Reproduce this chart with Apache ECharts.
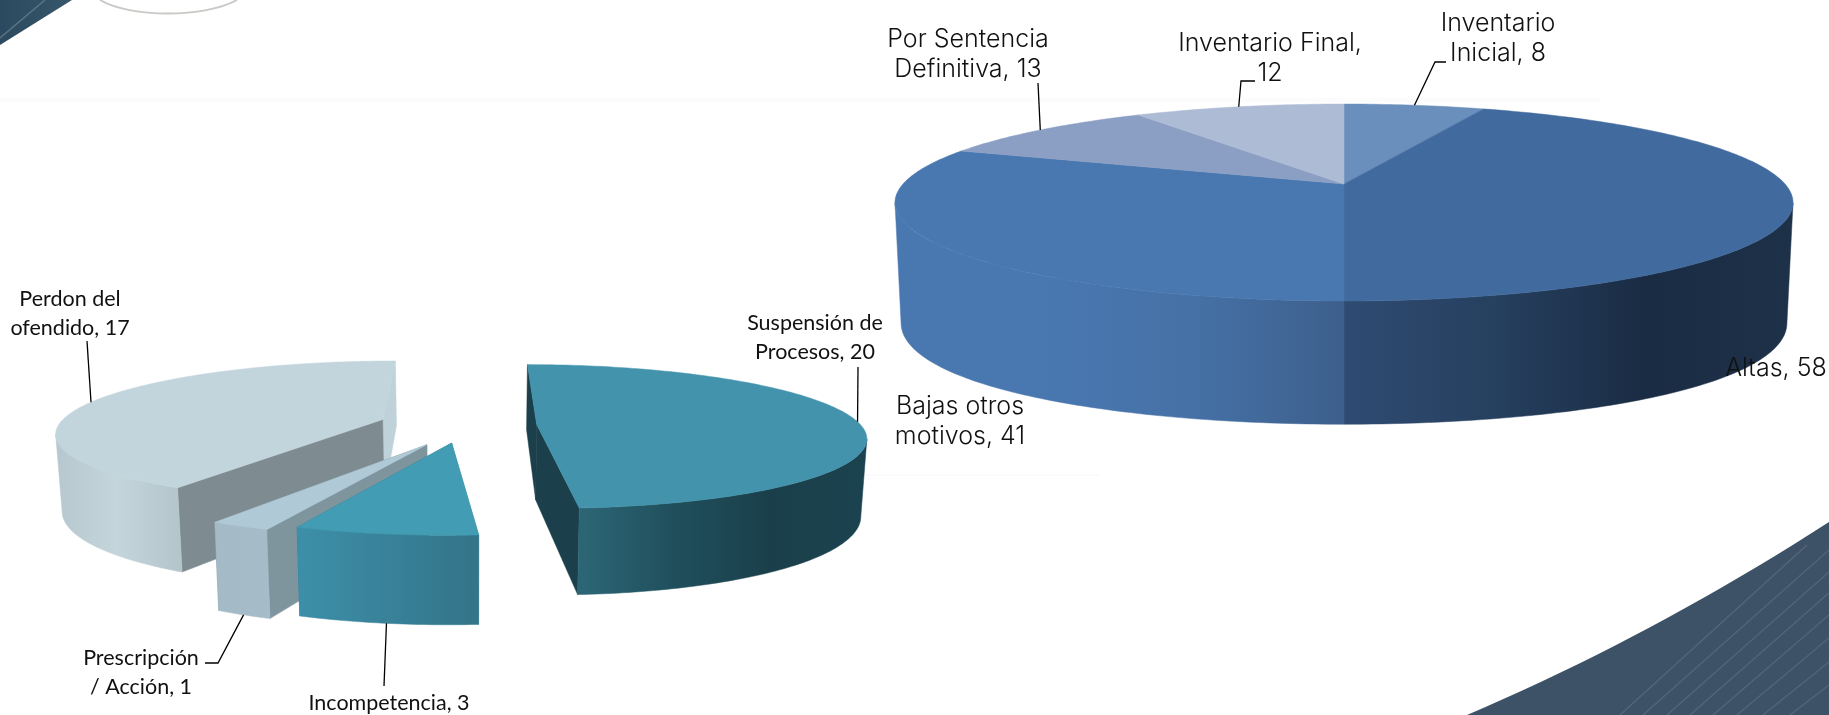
<!DOCTYPE html>
<html><head><meta charset="utf-8">
<style>html,body{margin:0;padding:0;background:#fff}#c{width:1829px;height:715px}</style>
<script src="https://cdn.jsdelivr.net/npm/echarts@6/dist/echarts.min.js"></script>
</head><body><div id="c"></div>
<script>
// ---- chart values ----
const rightCategories = ['Inventario Inicial', 'Altas', 'Bajas otros motivos', 'Por Sentencia Definitiva', 'Inventario Final'];
const rightValues = [8, 58, 41, 13, 12];
const leftCategories = ['Suspensión de Procesos', 'Incompetencia', 'Prescripción / Acción', 'Perdon del ofendido'];
const leftValues = [20, 3, 1, 17];

// ---- layout and styles ----
const LG = (stops, x0, x1) => new echarts.graphic.LinearGradient(x0, 0, x1, 0, stops.map((c, i) => ({offset: i / (stops.length - 1), color: c})), true);
const rightFont = '"Inter", "Lato", sans-serif', leftFont = 'Lato, sans-serif';

const rightPie = {
  top: {vx: 1344, vy: 184, s: 441, a: 95, c: -0.188, cy: -0.188},
  bottom: {vx: 1344, vy: 302, s: 435, a: 110, c: -0.188, cy: -0.1},
  explode: [0, 0, 0, 0, 0], nudge: [[0, 0], [0, 0], [0, 0], [0, 0], [0, 0]],
  font: rightFont, fontSize: 25, lineHeight: 30, fontWeight: 300,
  styles: [
    {top: '#6a8fbd'},
    {top: '#416b9e', wall: () => LG(['#2f4b72', '#26405f', '#1a2c44', '#1d3149'], 1344, 1793)},
    {top: '#4977b0', wall: () => LG(['#4977b0', '#4977b0', '#4571a6', '#3d5f8c'], 895, 1344)},
    {top: '#8a9fc3'},
    {top: '#adbbd4'}
  ],
  labels: [
    {x: 1498, y: 23, wrap: 1, leader: [[1446, 62], [1435, 62]]},
    {x: 1776, y: 368},
    {x: 960, y: 406, wrap: 2},
    {x: 968, y: 39, wrap: 2, leader: [[1038, 83]]},
    {x: 1270, y: 43, wrap: 2, leader: [[1255, 81], [1241, 81]]}
  ]
};
const leftPie = {
  top: {vx: 472, vy: 425, s: 324, a: 70, c: -0.167, cy: -0.167},
  bottom: {vx: 472, vy: 500.5, s: 319, a: 81, c: -0.167, cy: -0.15},
  explode: [0.2, 0.25, 0.3, 0.3], nudge: [[0, 0], [-0.022, 0], [0, 0], [0.01, 0]],
  font: leftFont, fontSize: 21.5, lineHeight: 29, fontWeight: 400,
  depth: [1, 3, 2, 0],
  styles: [
    {top: '#4393ad', wall: () => LG(['#2c6675', '#204f5c', '#1a3f4b', '#1b434f'], 580, 866), faceA: '#1b3f4b', faceB: '#1b3f4b'},
    {top: '#429cb4', wall: () => LG(['#3d8fa9', '#34758a'], 297, 471), faceA: '#34758a', faceB: '#3d8fa9'},
    {top: '#afcad6', wall: () => LG(['#a4bac6', '#a6bcc8'], 215, 270), faceA: '#7a929c', faceB: '#7f959e'},
    {top: '#c2d4dc', wall: () => LG(['#b6c6cd', '#c4d5dc', '#b4c4cb'], 50, 183), faceA: '#bfd2da', faceB: '#7e8c92'}
  ],
  labels: [
    {x: 815, y: 323, wrap: 2, leader: [[858, 367]]},
    {x: 389, y: 703, leader: [[384, 686]], rim: 'bottom'},
    {x: 141, y: 658, wrap: 1, leader: [[205, 663], [218, 663]], rim: 'bottom'},
    {x: 70, y: 299, wrap: 2, leader: [[87, 341]]}
  ]
};

const rad = d => d * Math.PI / 180;
function project(pl, X, Y) {
  return [pl.vx + pl.s * X / (1 + pl.c * Y), pl.vy + pl.a * Y / (1 + pl.cy * Y)];
}
function rimPoint(pl, off, deg) {
  return project(pl, off[0] + Math.sin(rad(deg)), off[1] - Math.cos(rad(deg)));
}
function extremeAngles(pl, off) {
  let maxX = -1e9, minX = 1e9, right = 90, left = 270;
  for (let d = 0; d < 360; d += 0.5) {
    const x = rimPoint(pl, off, d)[0];
    if (x > maxX) { maxX = x; right = d; }
    if (x < minX) { minX = x; left = d; }
  }
  return [right, left];
}
function arc(pl, off, a0, a1) {
  const pts = [], n = Math.max(2, Math.ceil(Math.abs(a1 - a0)));
  for (let i = 0; i <= n; i++) pts.push(rimPoint(pl, off, a0 + (a1 - a0) * i / n));
  return pts;
}
function wrapLabel(name, value, wrap) {
  const text = name + ', ' + value;
  if (!wrap) return text;
  const w = text.split(' ');
  return w.slice(0, wrap).join(' ') + '\n' + w.slice(wrap).join(' ');
}
function pieSeries(pie, names, values) {
  const total = values.reduce((a, b) => a + b, 0);
  const starts = []; values.reduce((acc, v, i) => (starts[i] = acc, acc + v), 0);
  return {
    type: 'custom', coordinateSystem: 'none', silent: true, animation: false, clip: false,
    data: names.map((n, i) => ({name: n, value: [values[i]]})),
    renderItem(params, api) {
      const i = params.dataIndex, v = api.value(0);
      const a0 = starts[i] / total * 360, a1 = a0 + v / total * 360, mid = (a0 + a1) / 2;
      const d = pie.explode[i], off = [d * Math.sin(rad(mid)) + pie.nudge[i][0], -d * Math.cos(rad(mid)) + pie.nudge[i][1]];
      const st = pie.styles[i], rank = (pie.depth ? pie.depth[i] : 0) * 10;
      const kids = [];
      const poly = (points, fill, z2) => kids.push({type: 'polygon', z2, shape: {points}, style: {fill, stroke: fill, lineWidth: 0.5}});
      if (d > 0) {
        const at = project(pie.top, off[0], off[1]), ab = project(pie.bottom, off[0], off[1]);
        poly([at, rimPoint(pie.top, off, a1), rimPoint(pie.bottom, off, a1), ab], st.faceA, rank + 1);
        poly([at, rimPoint(pie.top, off, a0), rimPoint(pie.bottom, off, a0), ab], st.faceB, rank + 1);
      }
      if (st.wall) {
        const [rt, lt] = extremeAngles(pie.top, off), [rb, lb] = extremeAngles(pie.bottom, off);
        const t0 = Math.max(a0, rt), t1 = Math.min(a1, lt), b0 = Math.max(a0, rb), b1 = Math.min(a1, lb);
        if (t1 > t0 && b1 > b0) poly(arc(pie.top, off, t0, t1).concat(arc(pie.bottom, off, b1, b0)), st.wall(), rank + 2);
      }
      poly([project(pie.top, off[0], off[1])].concat(arc(pie.top, off, a0, a1)), st.top, rank + 3);
      const lab = pie.labels[i];
      if (lab.leader) {
        const end = rimPoint(lab.rim === 'bottom' ? pie.bottom : pie.top, off, mid);
        kids.push({type: 'polyline', z2: 100, shape: {points: lab.leader.concat([end])}, style: {fill: 'none', stroke: '#000', lineWidth: 1.3}});
      }
      kids.push({type: 'text', z2: 101, x: lab.x, y: lab.y, style: {
        text: wrapLabel(names[i], v, lab.wrap), fill: '#111', fontFamily: pie.font, fontSize: pie.fontSize, fontWeight: pie.fontWeight,
        lineHeight: pie.lineHeight, align: 'center', verticalAlign: 'top', y: -pie.lineHeight / 2
      }});
      return {type: 'group', children: kids};
    }
  };
}

// ---- slide background decoration ----
const swoosh = [];
for (let t = 0; t <= 1.0001; t += 0.05) {
  swoosh.push([(1 - t) * (1 - t) * 1467 + 2 * t * (1 - t) * 1652 + t * t * 1829, (1 - t) * (1 - t) * 715 + 2 * t * (1 - t) * 636 + t * t * 522]);
}
swoosh.push([1829, 715]);
const stripeEnds = [[1620, 1807, 545], [1643, 1829, 550], [1667, 1829, 572], [1690, 1829, 593], [1713, 1829, 615], [1737, 1829, 638], [1763, 1829, 662], [1790, 1829, 685]];
const decor = [
  {type: 'polygon', z: 0, shape: {points: swoosh}, style: {fill: '#3d5266'}},
  ...stripeEnds.map(e => ({type: 'line', z: 0, shape: {x1: e[0], y1: 715, x2: e[1], y2: e[2]}, style: {stroke: '#526779', lineWidth: 1.3}})),
  {type: 'polygon', z: 0, shape: {points: [[0, 0], [72, 0], [0, 45]]}, style: {fill: new echarts.graphic.LinearGradient(0, 0, 1, 0, [{offset: 0, color: '#2c4a5f'}, {offset: 1, color: '#38566a'}])}},
  {type: 'line', z: 0, shape: {x1: 0, y1: 38, x2: 45, y2: 0}, style: {stroke: '#5b7484', lineWidth: 1.5}},
  {type: 'bezierCurve', z: 0, shape: {x1: 100, y1: 0, cpx1: 130, cpy1: 18, cpx2: 205, cpy2: 18, x2: 237, y2: 0}, style: {fill: 'none', stroke: '#c9c9c6', lineWidth: 2}},
  {type: 'line', z: 0, shape: {x1: 0, y1: 100, x2: 1600, y2: 100}, style: {stroke: '#fcfcfc', lineWidth: 4}},
  {type: 'line', z: 0, shape: {x1: 860, y1: 475, x2: 1100, y2: 475}, style: {stroke: '#fbfbfb', lineWidth: 2}}
];

const chart = echarts.init(document.getElementById('c'), null, {renderer: 'canvas'});
chart.setOption({
  animation: false, backgroundColor: '#fff',
  graphic: {elements: decor},
  series: [pieSeries(leftPie, leftCategories, leftValues), pieSeries(rightPie, rightCategories, rightValues)]
});
</script></body></html>
